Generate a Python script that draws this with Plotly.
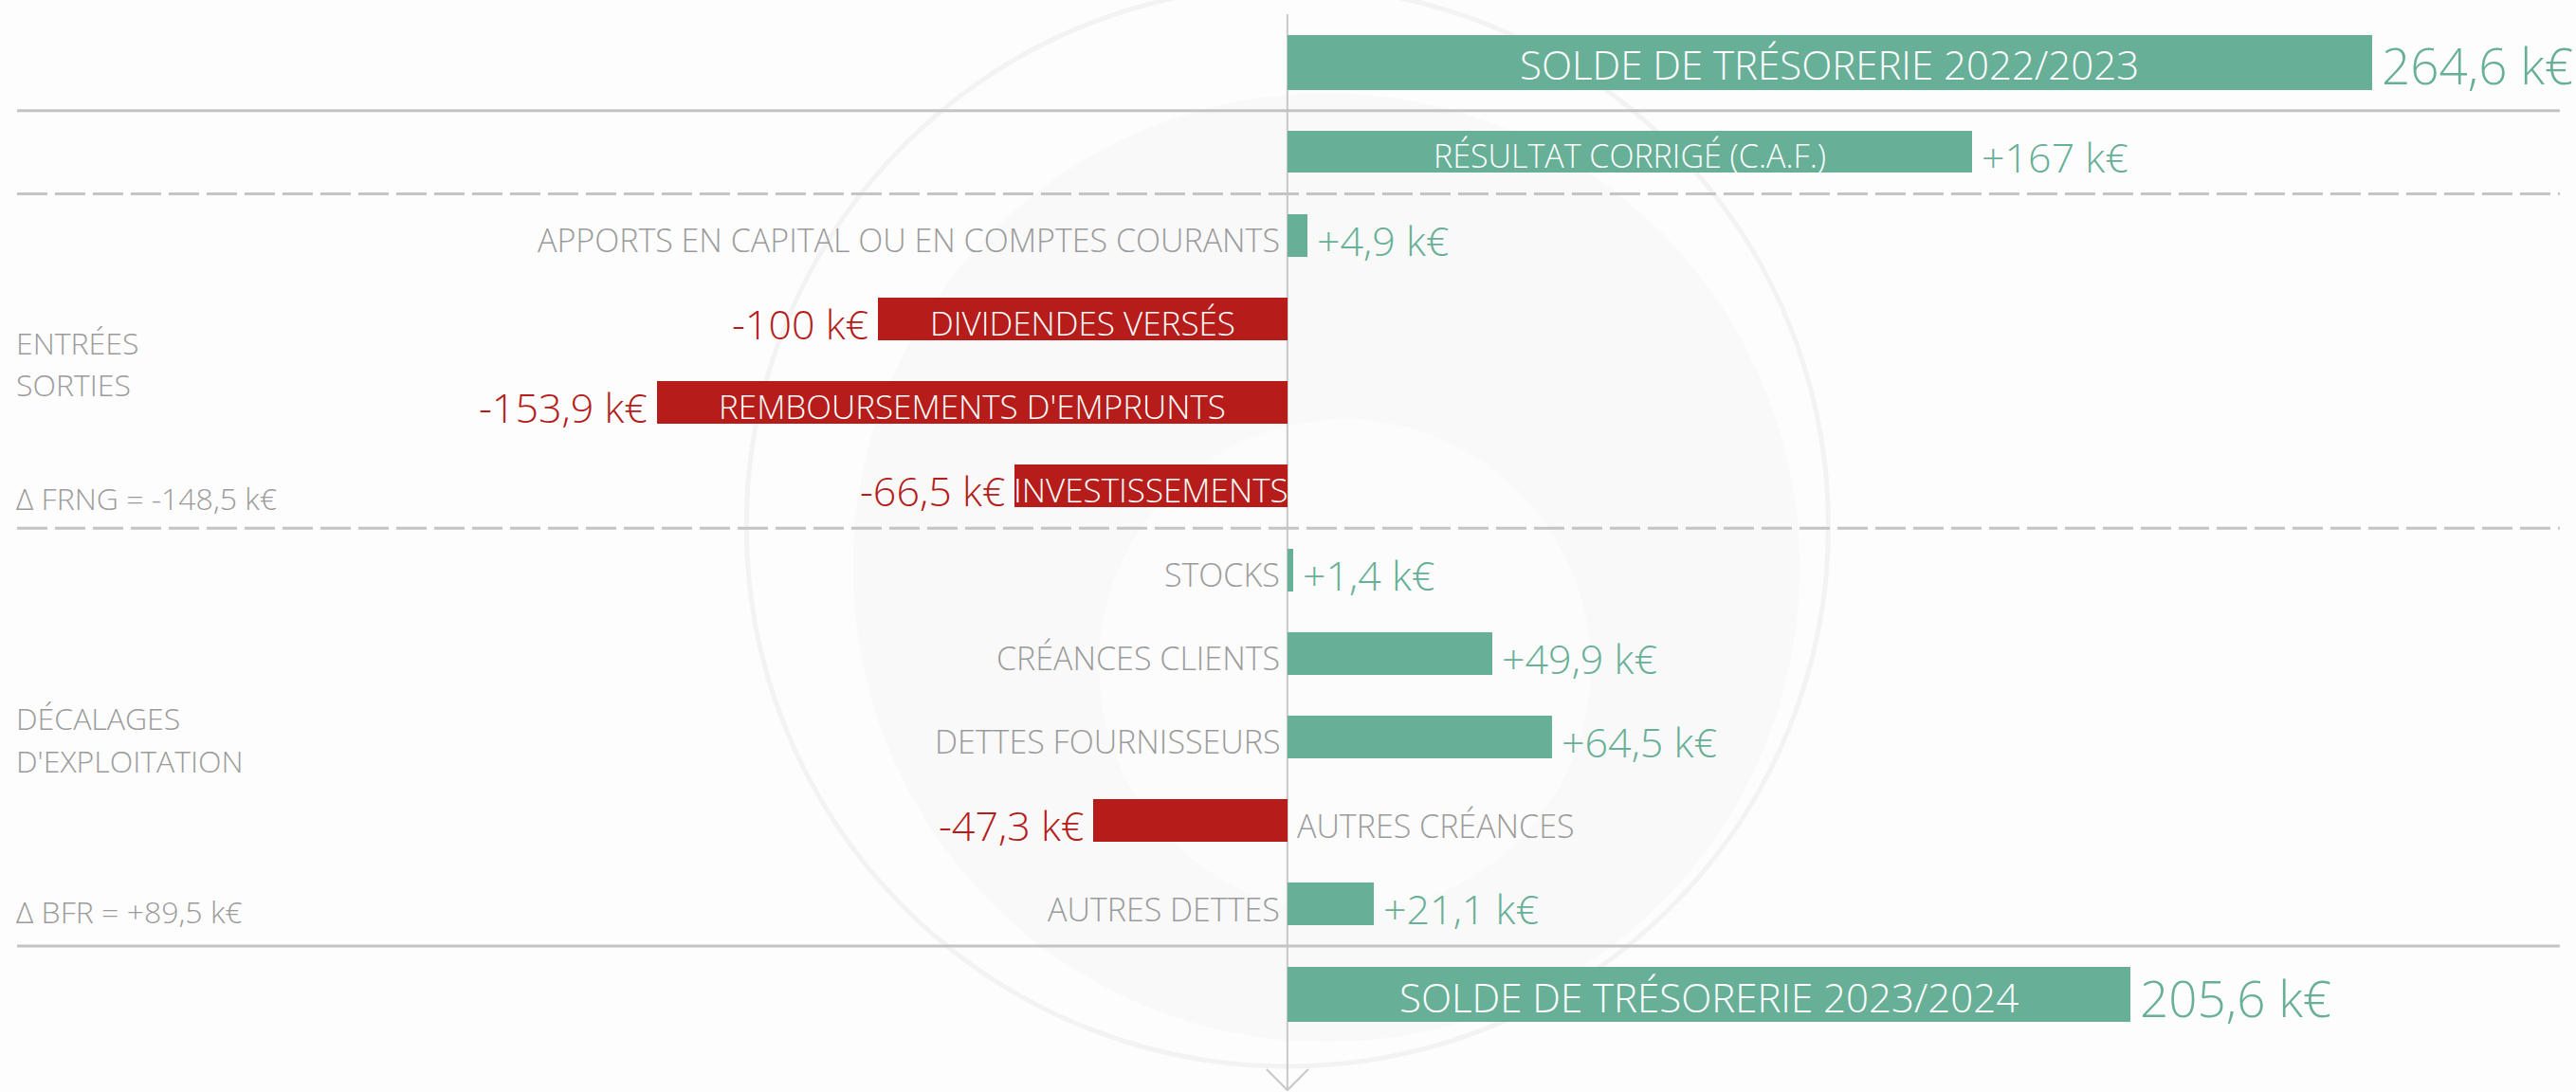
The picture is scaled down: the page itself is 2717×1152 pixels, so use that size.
import plotly.graph_objects as go

# ---- data -------------------------------------------------------------
categories = [
    "SOLDE DE TRÉSORERIE 2022/2023",
    "RÉSULTAT CORRIGÉ (C.A.F.)",
    "APPORTS EN CAPITAL OU EN COMPTES COURANTS",
    "DIVIDENDES VERSÉS",
    "REMBOURSEMENTS D'EMPRUNTS",
    "INVESTISSEMENTS",
    "STOCKS",
    "CRÉANCES CLIENTS",
    "DETTES FOURNISSEURS",
    "AUTRES CRÉANCES",
    "AUTRES DETTES",
    "SOLDE DE TRÉSORERIE 2023/2024",
]
values_keur = [264.6, 167, 4.9, -100, -153.9, -66.5, 1.4, 49.9, 64.5, -47.3, 21.1, 205.6]
balances = {"SOLDE DE TRÉSORERIE 2022/2023", "SOLDE DE TRÉSORERIE 2023/2024"}
label_in_bar = balances | {
    "RÉSULTAT CORRIGÉ (C.A.F.)",
    "DIVIDENDES VERSÉS",
    "REMBOURSEMENTS D'EMPRUNTS",
    "INVESTISSEMENTS",
}
group_labels = ["ENTRÉES", "SORTIES", "DÉCALAGES", "D'EXPLOITATION"]
delta_frng = -148.5
delta_bfr = 89.5

# ---- style ------------------------------------------------------------
GREEN = "#67b097"
RED = "#b51c1a"
GREY_TXT = "#9b9b9b"
RULE = "#c4c4c4"
BG = "#fdfdfd"
FONT = "Open Sans"

W, H = 2717, 1152
# row slots (balance rows sit a little further out)
row_pos = [-0.066] + list(range(1, 11)) + [11.08]
X_RANGE = [-314.1, 314.4]
Y_RANGE = [12.247, -0.814]


def fmt(v, signed):
    s = f"{abs(v):.1f}".rstrip("0").rstrip(".").replace(".", ",")
    sign = "-" if v < 0 else ("+" if signed else "")
    return f"{sign}{s} k€"


colors = [GREEN if v >= 0 else RED for v in values_keur]
widths = [0.65 if c in balances else 0.51 for c in categories]

fig = go.Figure(
    go.Bar(
        x=values_keur,
        y=row_pos,
        orientation="h",
        width=widths,
        marker=dict(color=colors, line=dict(width=0)),
        hoverinfo="skip",
    )
)

ann = []
for cat, v, y in zip(categories, values_keur, row_pos):
    is_bal = cat in balances
    col = GREEN if v >= 0 else RED
    # value label beyond the bar end
    ann.append(dict(
        x=v, y=y, xref="x", yref="y",
        text=fmt(v, not is_bal),
        showarrow=False,
        xanchor="left" if v >= 0 else "right",
        xshift=8 if v >= 0 else -8,
        yshift=-5 if not is_bal else -3,
        font=dict(family=FONT, size=53 if is_bal else 43, color=col, weight=300),
    ))
    # category label
    if cat in label_in_bar:
        size = 42 if is_bal else (34 if cat == "RÉSULTAT CORRIGÉ (C.A.F.)" else 35)
        ann.append(dict(
            x=v / 2, y=y, xref="x", yref="y", text=cat, showarrow=False,
            xanchor="center", yshift=-4 if not is_bal else -2,
            font=dict(family=FONT, size=size, color="white", weight=300),
        ))
    else:
        ann.append(dict(
            x=0, y=y, xref="x", yref="y", text=cat, showarrow=False,
            xanchor="right" if v >= 0 else "left",
            xshift=-6 if v >= 0 else 8,
            yshift=-5,
            font=dict(family=FONT, size=34, color=GREY_TXT, weight=300),
        ))

# group captions on the left
side_texts = [
    (group_labels[0], 3.29),
    (group_labels[1], 3.78),
    ("Δ FRNG = " + fmt(delta_frng, True), 5.14),
    (group_labels[2], 7.77),
    (group_labels[3], 8.28),
    ("Δ BFR = " + fmt(delta_bfr, True), 10.09),
]
for t, y in side_texts:
    ann.append(dict(
        x=0.0055, y=y, xref="paper", yref="y", text=t, showarrow=False,
        xanchor="left",
        font=dict(family=FONT, size=32, color=GREY_TXT, weight=300),
    ))

shapes = [
    # faint watermark behind the chart
    dict(type="circle", xref="x", yref="y", layer="below",
         x0=-132, x1=132, y0=-0.98, y1=11.94,
         line=dict(color="#f3f3f3", width=5), fillcolor="rgba(0,0,0,0)"),
    dict(type="circle", xref="x", yref="y", layer="below",
         x0=-106, x1=125, y0=0.30, y1=11.65,
         line=dict(width=0), fillcolor="#f9f9f9"),
    dict(type="circle", xref="x", yref="y", layer="below",
         x0=-46, x1=74, y0=4.2, y1=10.1,
         line=dict(width=0), fillcolor="#fcfcfc"),
]

# separators between blocks
for y, dash in [(0.51, "solid"), (1.505, "32px,8px"), (5.505, "32px,8px"), (10.5, "solid")]:
    shapes.append(dict(
        type="line", xref="paper", yref="y", x0=0.0066, x1=0.9937, y0=y, y1=y,
        line=dict(color=RULE, width=3, dash=dash), layer="above",
    ))

# vertical zero axis with arrow head
px_per_k = W / (X_RANGE[1] - X_RANGE[0])
arm = 22 / px_per_k
shapes.append(dict(type="line", xref="x", yref="y", x0=0, x1=0, y0=-0.644, y1=12.224,
                   line=dict(color="#c8c8c8", width=2), layer="below"))
shapes.append(dict(type="path", xref="x", yref="y",
                   path=f"M {-arm},11.975 L 0,12.224 L {arm},11.975",
                   line=dict(color="#c8c8c8", width=2), layer="below"))

fig.update_layout(
    width=W, height=H,
    margin=dict(l=0, r=0, t=0, b=0),
    paper_bgcolor=BG, plot_bgcolor=BG,
    showlegend=False,
    bargap=0,
    xaxis=dict(range=X_RANGE, visible=False, fixedrange=True),
    yaxis=dict(range=Y_RANGE, visible=False, fixedrange=True),
    annotations=ann,
    shapes=shapes,
)

fig.write_html("out.html", config={"displayModeBar": False})
